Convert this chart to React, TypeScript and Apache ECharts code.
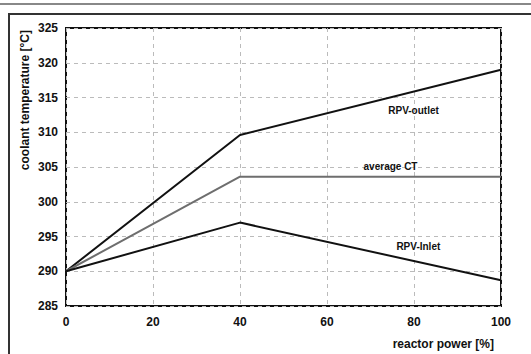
import React, { useEffect, useRef } from "react";
import * as echarts from "echarts";

const power = [0, 40, 100];
const rpvOutlet = [290, 309.6, 319];
const averageCT = [290, 303.6, 303.6];
const rpvInlet = [290, 297, 288.7];
const seriesNames = ["RPV-outlet", "average CT", "RPV-Inlet"];
const labelCoords: [number, number][] = [
  [79.9, 313.2],
  [74.6, 305.1],
  [81.0, 293.6],
];

const FONT = "'Liberation Sans', Arial, sans-serif";

export default function App() {
  const ref = useRef<HTMLDivElement>(null);
  useEffect(() => {
    if (!ref.current) return;
    const chart = echarts.init(ref.current, null, { renderer: "svg" });
    const mk = (vals: number[], i: number, color: string) => ({
      name: seriesNames[i],
      type: "line",
      data: power.map((p, k) => [p, vals[k]]),
      symbol: "none",
      lineStyle: { color, width: 2 },
      markPoint: {
        symbol: "circle",
        symbolSize: 0,
        silent: true,
        data: [
          {
            coord: labelCoords[i],
            label: {
              show: true,
              position: "inside",
              formatter: seriesNames[i],
              color: "#111",
              fontFamily: FONT,
              fontWeight: "bold",
              fontSize: 10,
            },
          },
        ],
      },
    });
    const axisText = {
      color: "#111",
      fontFamily: FONT,
      fontWeight: "bold",
      fontSize: 12,
    };
    chart.setOption({
      animation: false,
      backgroundColor: "#fff",
      grid: {
        left: 66,
        right: 30,
        top: 28,
        bottom: 48,
        show: true,
        borderColor: "#111",
        borderWidth: 2,
      },
      xAxis: {
        type: "value",
        min: 0,
        max: 100,
        interval: 20,
        axisLine: { show: false },
        axisTick: { show: false },
        axisLabel: { ...axisText, margin: 10 },
        splitLine: { lineStyle: { color: "#bbb", type: [4, 4], width: 1 } },
      },
      yAxis: {
        type: "value",
        min: 285,
        max: 325,
        interval: 5,
        axisLine: { show: false },
        axisTick: { show: false },
        axisLabel: { ...axisText, margin: 8 },
        splitLine: { lineStyle: { color: "#bbb", type: [4, 4], width: 1 } },
      },
      graphic: [
        {
          type: "line",
          shape: { x1: 0, y1: 4, x2: 531, y2: 4 },
          style: { stroke: "#888", lineWidth: 2 },
        },
        {
          type: "polyline",
          shape: { points: [[9, 354], [9, 14], [531, 14]] },
          style: { stroke: "#333", lineWidth: 2, fill: "none" },
        },
        {
          type: "text",
          x: 25,
          y: 30,
          rotation: Math.PI / 2,
          style: {
            text: "coolant temperature [°C]",
            fontFamily: FONT,
            fontWeight: "bold",
            fontSize: 12,
            fill: "#111",
            align: "right",
            verticalAlign: "middle",
          },
        },
        {
          type: "text",
          x: 494,
          y: 344,
          style: {
            text: "reactor power [%]",
            fontFamily: FONT,
            fontWeight: "bold",
            fontSize: 12,
            fill: "#111",
            align: "right",
            verticalAlign: "middle",
          },
        },
      ],
      series: [
        mk(rpvOutlet, 0, "#111"),
        mk(averageCT, 1, "#6e6e6e"),
        mk(rpvInlet, 2, "#111"),
      ],
    });
    return () => chart.dispose();
  }, []);
  return <div ref={ref} style={{ width: 531, height: 354, position: "absolute", left: 0, top: 0 }} />;
}
